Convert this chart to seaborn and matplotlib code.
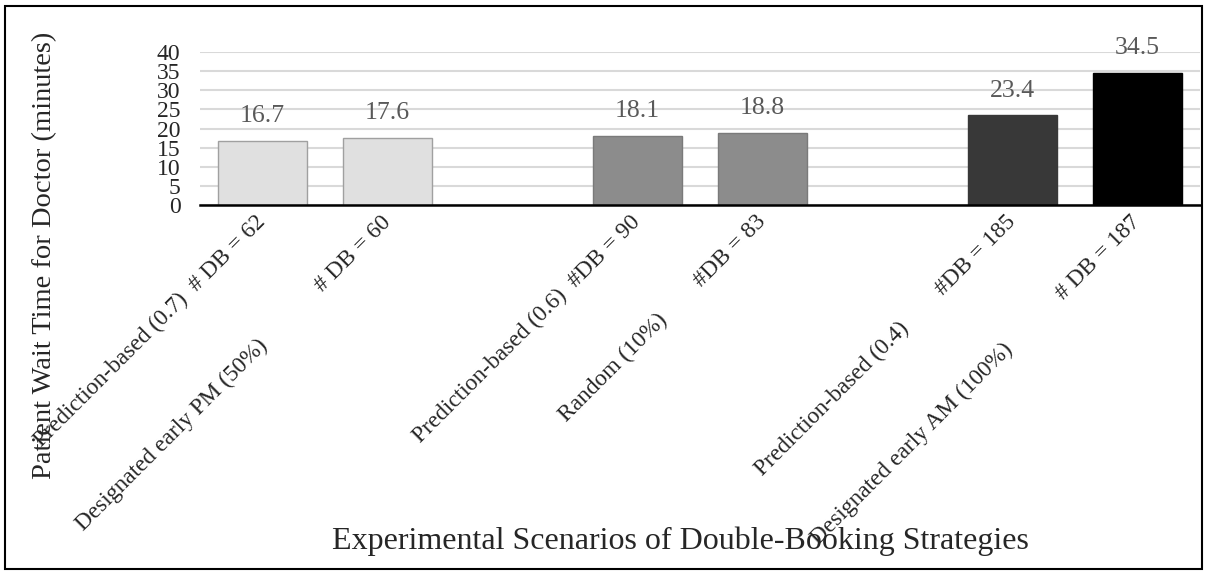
import matplotlib
matplotlib.use("Agg")
import matplotlib.pyplot as plt
import matplotlib.patches as mpatches
import seaborn as sns
import pandas as pd

# ---- data ----
strategies = ["Prediction-based (0.7)", "Designated early PM (50%)",
              "Prediction-based (0.6)", "Random (10%)",
              "Prediction-based (0.4)", "Designated early AM (100%)"]
db_labels = ["# DB = 62", "# DB = 60", "#DB = 90", "#DB = 83", "#DB = 185", "# DB = 187"]
gaps = [2, 13, 2, 8, 8, 12]          # spaces between the two parts of each tick label
wait_times = [16.7, 17.6, 18.1, 18.8, 23.4, 34.5]
bar_colors = ["#e0e0e0", "#e0e0e0", "#8c8c8c", "#8c8c8c", "#383838", "#000000"]
edge_colors = ["#a0a0a0", "#a0a0a0", "#7a7a7a", "#7a7a7a", "#383838", "#000000"]
y_ticks = [0, 5, 10, 15, 20, 25, 30, 35, 40]

sns.set_theme(style="white")
plt.rcParams["font.family"] = ["Liberation Serif", "DejaVu Serif"]

df = pd.DataFrame({"strategy": strategies, "wait": wait_times})
order = [strategies[0], strategies[1], "gap1", strategies[2], strategies[3],
         "gap2", strategies[4], strategies[5]]

fig = plt.figure(figsize=(12.07, 5.74), dpi=100)
ax = fig.add_axes([200 / 1207, 1 - 205 / 574, 1000 / 1207, 153 / 574])

sns.barplot(data=df, x="strategy", y="wait", order=order, hue="strategy",
            hue_order=strategies, palette=bar_colors, legend=False,
            width=0.71, ax=ax, zorder=3)

# edge colours per bar
for bar_patch in ax.patches:
    h = bar_patch.get_height()
    if h != h:
        continue
    r = round(h, 1)
    if r in wait_times:
        bar_patch.set_edgecolor(edge_colors[wait_times.index(r)])
        bar_patch.set_linewidth(1.0)

# value labels
for cont in ax.containers:
    ax.bar_label(cont, fmt="%.1f", padding=10, fontsize=18.5, color="#595959",
                 clip_on=False)

ax.set_ylim(0, 40)
ax.set_xlim(-0.5, 7.5)
ax.set_yticks(y_ticks)
ax.set_yticklabels([str(t) for t in y_ticks], fontsize=17)
ax.yaxis.grid(True, color="#d9d9d9", linewidth=1.5, zorder=0)
ax.set_axisbelow(True)

tick_texts = []
k = 0
for o in order:
    if o.startswith("gap"):
        tick_texts.append("")
    else:
        tick_texts.append(strategies[k] + " " * gaps[k] + db_labels[k])
        k += 1
ax.set_xticks(range(len(order)))
ax.set_xticklabels(tick_texts, rotation=45, ha="right", va="center",
                   rotation_mode="anchor", fontsize=16.8)
ax.tick_params(axis="both", length=0)
ax.tick_params(axis="x", pad=10)
ax.tick_params(axis="y", pad=14)

for sp in ["top", "right", "left"]:
    ax.spines[sp].set_visible(False)
ax.spines["bottom"].set_color("black")
ax.spines["bottom"].set_linewidth(1.8)
ax.spines["bottom"].set_zorder(5)

ax.set_ylabel("Patient Wait Time for Doctor (minutes)", fontsize=20.5)
ax.yaxis.set_label_coords(-0.143, -0.33)
ax.set_xlabel("Experimental Scenarios of Double-Booking Strategies", fontsize=23)
ax.xaxis.set_label_coords(0.48, -2.1)

fig.patches.append(mpatches.Rectangle((5 / 1207, 5 / 574), 1197 / 1207, 563 / 574,
                                      transform=fig.transFigure, fill=False,
                                      edgecolor="black", linewidth=1.5))

fig.savefig("out.png", dpi=100)
